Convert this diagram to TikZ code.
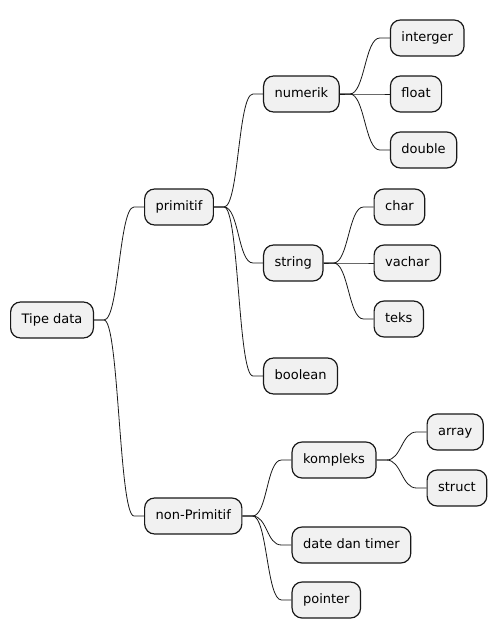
\documentclass[tikz,border=0pt]{standalone}
\usepackage{fontspec}
\setmainfont{DejaVu Sans}
\usetikzlibrary{calc}
\definecolor{boxfill}{HTML}{F1F1F1}
\definecolor{boxline}{HTML}{181818}

% branch from a parent topic to a child topic
\newcommand{\branchto}[2]{%
  \draw[branch] (#1.east) -- ++(10,0) .. controls +(15,0) and +(-15,0) .. ($(#2.west)+(-10,0)$) -- (#2.west);}

\begin{document}
\begin{tikzpicture}[
    x=1bp, y=-1bp,
    topic/.style={draw=boxline, fill=boxfill, line width=1.2bp, rounded corners=10bp,
        anchor=west, minimum height=36bp, inner xsep=11bp, inner ysep=0pt,
        text height=10bp, text depth=3bp, font=\fontsize{13bp}{15bp}\selectfont},
    branch/.style={draw=boxline, line width=0.8bp}
]
\useasboundingbox (0,0) rectangle (499,640);

% Root
\node[topic] (tipe) at (10,320) {Tipe data};

% First level
\node[topic] (prim) at ($(tipe.east)+(50,-113)$) {primitif};
\node[topic] (nonprim) at ($(tipe.east)+(50,196)$) {non-Primitif};

% Primitif
\node[topic] (numerik) at ($(prim.east)+(49,-113)$) {numerik};
\node[topic] (string) at ($(prim.east)+(49,56)$) {string};
\node[topic] (boolean) at ($(prim.east)+(49,169)$) {boolean};

\node[topic] (interger) at ($(numerik.east)+(50,-56)$) {interger};
\node[topic] (float) at ($(numerik.east)+(50,0)$) {float};
\node[topic] (double) at ($(numerik.east)+(50,56)$) {double};

\node[topic] (char) at ($(string.east)+(50,-56)$) {char};
\node[topic] (vachar) at ($(string.east)+(50,0)$) {vachar};
\node[topic] (teks) at ($(string.east)+(50,56)$) {teks};

% Non-Primitif
\node[topic] (kompleks) at ($(nonprim.east)+(49,-56)$) {kompleks};
\node[topic] (date) at ($(nonprim.east)+(49,29)$) {date dan timer};
\node[topic] (pointer) at ($(nonprim.east)+(49,84)$) {pointer};

\node[topic] (array) at ($(kompleks.east)+(50,-28)$) {array};
\node[topic] (struct) at ($(kompleks.east)+(50,28)$) {struct};

% Branches
\branchto{tipe}{prim}
\branchto{tipe}{nonprim}
\branchto{prim}{numerik}
\branchto{prim}{string}
\branchto{prim}{boolean}
\branchto{numerik}{interger}
\branchto{numerik}{float}
\branchto{numerik}{double}
\branchto{string}{char}
\branchto{string}{vachar}
\branchto{string}{teks}
\branchto{nonprim}{kompleks}
\branchto{nonprim}{date}
\branchto{nonprim}{pointer}
\branchto{kompleks}{array}
\branchto{kompleks}{struct}
\end{tikzpicture}
\end{document}
